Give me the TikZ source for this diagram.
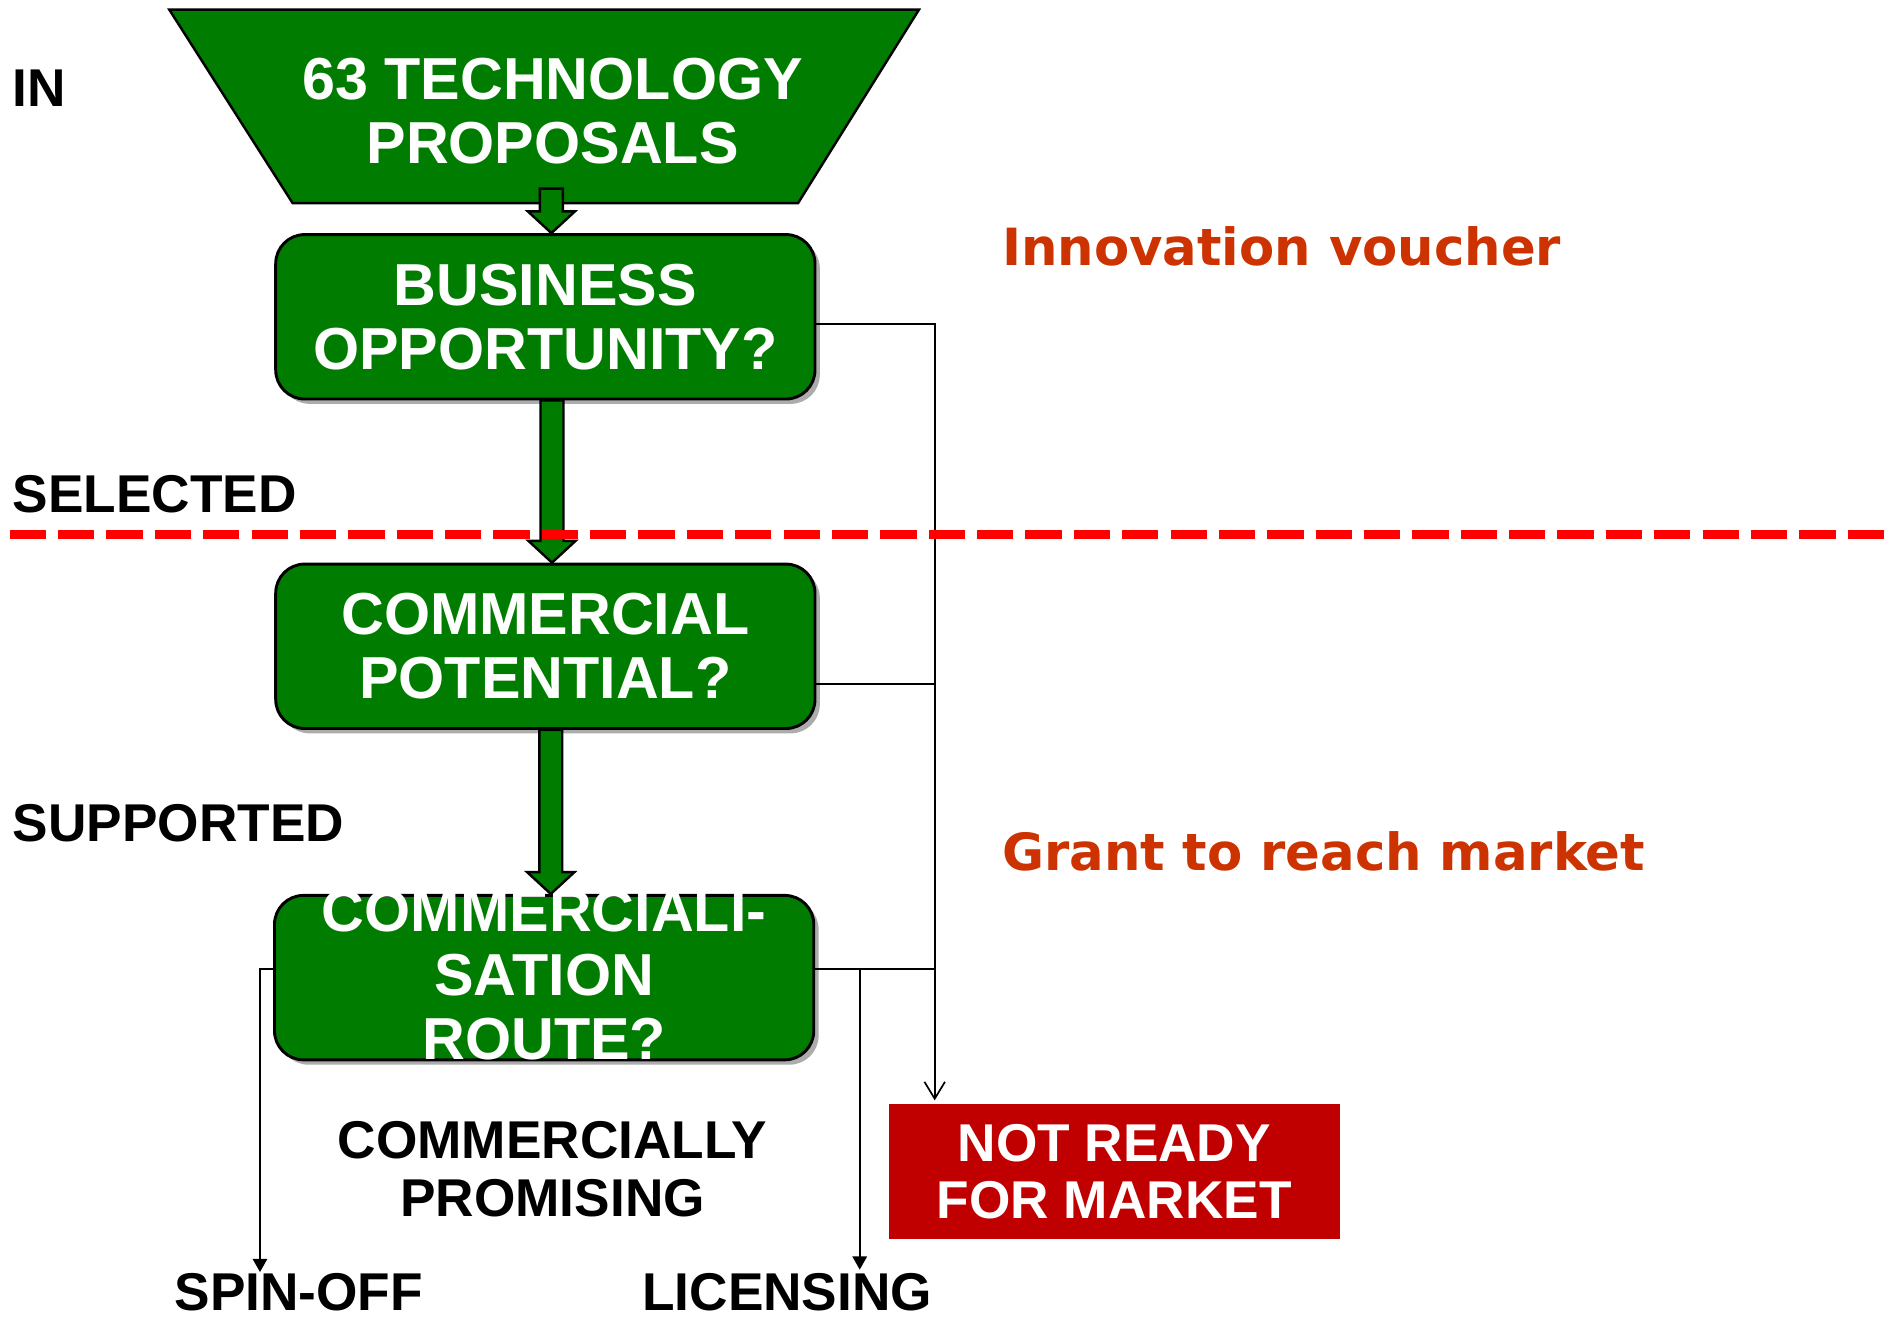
\documentclass[tikz,border=0pt]{standalone}
\usepackage{fontspec}
\setmainfont{Liberation Sans}
\newfontfamily\fundfont{DejaVu Sans}
\usetikzlibrary{calc,arrows.meta,shadows}

\definecolor{stagegreen}{RGB}{0,125,0}
\definecolor{stopred}{RGB}{192,0,0}
\definecolor{fundred}{RGB}{204,51,0}
\definecolor{cutred}{RGB}{255,0,0}

\newcommand{\flowarrow}[2]{%
  \path[flow] let \p1=(#1), \p2=(#2) in
    (\x2-4.75pt,\y1) -- (\x2+4.75pt,\y1) -- (\x2+4.75pt,\y2+9pt)
    -- (\x2+9.75pt,\y2+9pt) -- (\x2,\y2) -- (\x2-9.75pt,\y2+9pt)
    -- (\x2-4.75pt,\y2+9pt) -- cycle;}

\begin{document}
\begin{tikzpicture}[x=0.5pt,y=-0.5pt,every path/.style={line width=0.7pt},
    boxtext/.style={text=white,align=center,inner sep=0pt,
      font=\bfseries\fontsize{24.5}{26.5}\selectfont},
    stage/.style={boxtext,draw,line width=1.2pt,fill=stagegreen,rounded corners=12pt,
      minimum width=223pt,minimum height=68pt,
      general shadow={fill=gray!65,shadow xshift=2pt,shadow yshift=-2pt}},
    tag/.style={inner sep=0pt,align=center,font=\bfseries\fontsize{22}{24}\selectfont},
    fund/.style={anchor=west,inner sep=0pt,text=fundred,
      font=\fundfont\bfseries\fontsize{21.2}{24}\selectfont},
    flow/.style={draw,line width=1pt,fill=stagegreen},
    branch/.style={-{Triangle[length=5.5pt,width=6pt]}}]
  \useasboundingbox (0,0) rectangle (1568,1095);

  % funnel
  \draw[flow] (140,8) -- (760,8) -- (660,168) -- (242,168) -- cycle;
  \node[boxtext] (proposals) at (457,92) {63 TECHNOLOGY\\PROPOSALS};
  \coordinate (funnelout) at (456,156);

  \node[stage] (opportunity) at (451,262) {BUSINESS\\OPPORTUNITY?};
  \node[stage] (potential) at (451,534.5) {COMMERCIAL\\POTENTIAL?};
  \node[stage] (route) at (450,808.5) {};
  \node[boxtext] (routetext) at (450,806.5) {COMMERCIALI-\\SATION\\ROUTE?};
  \node[fill=stopred,boxtext,font=\bfseries\fontsize{22}{23.5}\selectfont,
    minimum width=186.5pt,minimum height=56pt] (notready) at (921.5,969) {NOT READY\\FOR MARKET};

  \node[tag,anchor=west] (inlabel) at (10,73) {IN};
  \node[tag,anchor=west] (selected) at (10,409) {SELECTED};
  \node[tag,anchor=west] (supported) at (10,681) {SUPPORTED};
  \node[tag] (promising) at (457,967) {COMMERCIALLY\\PROMISING};
  \node[tag] (spinoff) at (247,1069) {SPIN-OFF};
  \node[tag] (licensing) at (651,1069) {LICENSING};
  \node[fund] (voucher) at (828,204) {Innovation voucher};
  \node[fund] (grant) at (828,704) {Grant to reach market};

  \flowarrow{funnelout}{[xshift=2.5pt]opportunity.north}
  \flowarrow{opportunity.south}{[xshift=2.75pt]potential.north}
  \flowarrow{potential.south}{[xshift=2.75pt]route.north}

  % not ready bus
  \coordinate (bustop) at (773,268);
  \coordinate (bus) at (773,910);
  \draw[-{Straight Barb[length=7pt,width=8.5pt]}] (opportunity.east |- bustop) -| (bus);
  \draw ([yshift=-15.5pt]potential.east) -| (bustop);
  \draw ([yshift=3.5pt]route.east) -| (bustop);

  % routes out
  \coordinate (spin) at (215,1052);
  \coordinate (lic) at (711,1050);
  \draw[branch] ([yshift=3.5pt]route.east) -| (lic);
  \draw[branch] ([yshift=3.5pt]route.west) -| (spin);

  \draw[cutred,line width=4pt,dash pattern=on 15pt off 5pt] (8,442) -- (1568,442);
\end{tikzpicture}
\end{document}
